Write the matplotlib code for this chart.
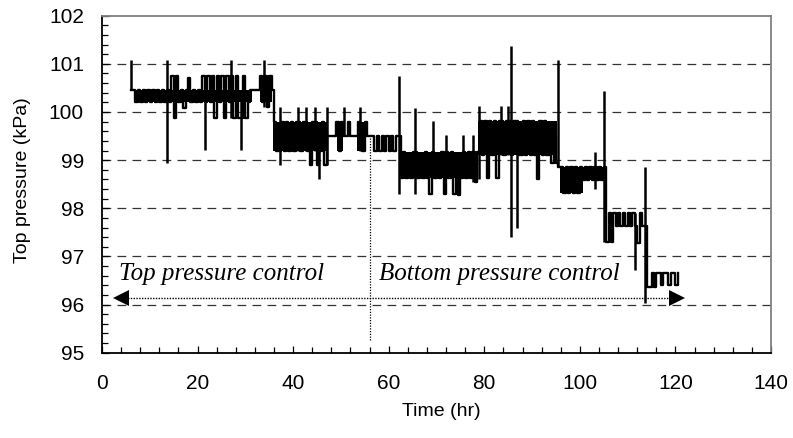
import numpy as np
import matplotlib
matplotlib.use("Agg")
import matplotlib.pyplot as plt
from matplotlib.ticker import MultipleLocator

# ---- data (0.5 hr sampling starting at 6 hr) ----
t_start = 6.0
t_step = 0.5
pressure_kpa = [
    100.45, 100.45, 100.2, 100.45, 100.2, 100.45, 100.2, 100.45, 100.2, 100.45,   # 6.0-10.5
    100.2, 100.45, 100.2, 100.45, 100.2, 100.45, 100.2, 100.75, 99.87, 100.75,    # 11.0-15.5
    100.2, 100.45, 100.08, 100.45, 100.7, 100.2, 100.45, 100.2, 100.45, 100.2,    # 16.0-20.5
    100.75, 100.2, 100.75, 100.2, 100.75, 99.87, 100.75, 100.2, 100.75, 99.87,    # 21.0-25.5
    100.75, 100.2, 100.75, 99.87, 100.75, 99.87, 99.87, 100.75, 99.87, 100.2,     # 26.0-30.5
    100.45, 100.45, 100.45, 100.45, 100.75, 100.2, 100.75, 100.1, 100.75, 100.45, # 31.0-35.5
    99.8, 99.2, 99.2, 99.8, 99.2, 99.8, 99.2, 99.8, 99.2, 99.8,                   # 36.0-40.5
    99.8, 99.2, 99.8, 99.8, 99.2, 98.9, 99.8, 99.8, 98.9, 99.2,                   # 41.0-45.5
    99.8, 98.9, 99.5, 99.5, 99.5, 99.5, 99.8, 99.2, 99.8, 99.5,                   # 46.0-50.5
    99.5, 99.8, 99.5, 99.5, 99.5, 99.8, 99.5, 99.2, 99.8, 99.5,                   # 51.0-55.5
    99.5, 99.5, 99.2, 99.5, 99.2, 99.5, 99.2, 99.5, 99.2, 99.5,                   # 56.0-60.5
    99.2, 99.5, 99.5, 98.62, 99.17, 98.62, 99.0, 98.62, 99.17, 99.17,             # 61.0-65.5
    98.62, 98.9, 98.62, 99.17, 98.62, 98.3, 99.17, 98.62, 99.0, 98.62,            # 66.0-70.5
    99.17, 98.3, 99.17, 98.62, 99.17, 98.3, 99.0, 98.27, 98.62, 99.17,            # 71.0-75.5
    98.62, 99.17, 98.62, 99.17, 98.55, 99.17, 99.82, 99.1, 99.82, 98.62,          # 76.0-80.5
    99.82, 99.1, 99.82, 98.62, 99.82, 99.82, 99.1, 99.82, 99.82, 99.1,            # 81.0-85.5
    99.82, 99.82, 99.1, 99.1, 99.82, 99.1, 99.82, 99.1, 99.82, 99.1,              # 86.0-90.5
    98.6, 99.82, 99.1, 99.82, 99.1, 99.52, 98.94, 99.52, 98.94, 98.86,            # 91.0-95.5
    98.86, 98.31, 98.86, 98.31, 98.86, 98.31, 98.86, 98.31, 98.86, 98.59,         # 96.0-100.5
    98.86, 98.59, 98.86, 98.59, 98.86, 98.59, 98.86, 98.59, 98.86, 97.3,          # 101.0-105.5
    97.9, 97.3, 97.9, 97.63, 97.9, 97.63, 97.9, 97.63, 97.9, 97.63,               # 106.0-110.5
    97.9, 97.63, 97.27, 97.9, 97.63, 97.63, 96.37, 96.37, 96.65, 96.37,           # 111.0-115.5
    96.65, 96.65, 96.4, 96.65, 96.65, 96.4, 96.65, 96.65, 96.4, 96.65,            # 116.0-120.5
]
time_hr = t_start + t_step * np.arange(len(pressure_kpa))

# short single-sample excursions (thin vertical spikes)
spike_time = [6.1, 13.6, 21.6, 27.1, 29.0, 34.0, 37.3, 41.0, 42.6, 44.6, 45.5, 47.0, 50.6, 54.0,
              62.1, 65.6, 69.2, 72.0, 75.6, 77.6, 78.8, 83.6, 85.0, 85.6, 86.8, 95.4, 103.1,
              105.0, 111.5, 113.7]
spike_low = [100.45, 98.93, 99.22, 99.87, 99.22, 100.1, 98.9, 99.2, 99.2, 99.2, 98.6, 98.9, 99.5, 99.2,
             98.3, 98.3, 98.62, 98.62, 98.62, 98.55, 98.6, 99.1, 99.1, 97.4, 97.6, 98.86, 98.4,
             97.3, 96.72, 96.03]
spike_high = [101.07, 101.07, 100.75, 101.07, 100.45, 101.07, 100.1, 100.1, 100.1, 100.1, 99.8, 100.1, 100.1, 100.1,
              100.75, 100.08, 99.82, 99.52, 99.52, 99.52, 100.12, 100.12, 100.12, 101.38, 99.82, 101.07, 99.17,
              100.43, 97.9, 98.86]

# dense fast-oscillation envelopes (where the trace fills solid)
band_start = [7.0, 33.1, 35.8, 49.1, 53.3, 62.3, 78.7, 95.8, 100.6]
band_end = [31.3, 35.5, 47.0, 50.5, 55.0, 78.5, 95.3, 100.6, 104.9]
band_low = [100.2, 100.2, 99.2, 99.2, 99.2, 98.62, 99.1, 98.31, 98.59]
band_high = [100.45, 100.75, 99.8, 99.8, 99.8, 99.17, 99.82, 98.86, 98.86]

x_ticks = [0, 20, 40, 60, 80, 100, 120, 140]
y_ticks = [95, 96, 97, 98, 99, 100, 101, 102]
switch_time = 56
arrow_span = [2.7, 121.5]
arrow_level = 96.13
label_left = "Top pressure control"
label_right = "Bottom pressure control"

# ---- figure ----
fig = plt.figure(figsize=(7.93, 4.38), dpi=100)
ax = fig.add_axes([102 / 793, 1 - 352.7 / 438, (771 - 102) / 793, (352.7 - 15.7) / 438])

sans = "Liberation Sans"
serif = "Liberation Serif"

# grid lines
for yv in y_ticks[1:-1]:
    ax.axhline(yv, color="#333333", lw=0.9, ls=(0, (7, 5)), zorder=1)

for s0, s1, lo, hi in zip(band_start, band_end, band_low, band_high):
    ax.fill_between([s0, s1], [lo, lo], [hi, hi], color="black", lw=0, zorder=3)

ax.plot(time_hr, pressure_kpa, color="black", lw=1.7, drawstyle="steps-post", zorder=3)
ax.vlines(spike_time, spike_low, spike_high, color="black", lw=1.8, zorder=3)

# switch-over marker
ax.plot([switch_time, switch_time], [99.45, 95.27], color="black", lw=0.9, ls=(0, (1, 1.2)), zorder=2)

# double arrow
ax.plot([arrow_span[0] + 1.5, arrow_span[1] - 1.5], [arrow_level, arrow_level],
        color="black", lw=1.0, ls=(0, (1, 1)), zorder=2)
ax.plot([arrow_span[0] + 1.2], [arrow_level], marker="<", ms=11, color="black",
        markeredgewidth=0, zorder=4)
ax.plot([arrow_span[1] - 1.2], [arrow_level], marker=">", ms=11, color="black",
        markeredgewidth=0, zorder=4)

ax.text(3.5, 96.5, label_left, family=serif, style="italic", fontsize=18, ha="left", va="baseline")
ax.text(58.0, 96.5, label_right, family=serif, style="italic", fontsize=18, ha="left", va="baseline")

ax.set_xlim(0, 140)
ax.set_ylim(95, 102)
ax.set_xticks(x_ticks)
ax.set_yticks(y_ticks)
ax.xaxis.set_minor_locator(MultipleLocator(4))
ax.yaxis.set_minor_locator(MultipleLocator(0.2))
ax.tick_params(which="both", direction="in", top=False, right=False, width=0.9, color="black")
ax.tick_params(which="major", length=5, labelsize=15)
ax.tick_params(axis="y", which="major", pad=13)
ax.tick_params(axis="x", which="major", pad=15)
ax.tick_params(which="minor", length=4)
for lab in ax.get_xticklabels() + ax.get_yticklabels():
    lab.set_family(sans)

ax.spines["left"].set_color("black")
ax.spines["bottom"].set_color("black")
ax.spines["top"].set_color("#808080")
ax.spines["right"].set_color("#808080")
for s in ax.spines.values():
    s.set_linewidth(1.3)

ax.set_xlabel("Time (hr)", family=sans, fontsize=14)
ax.set_ylabel("Top pressure (kPa)", family=sans, fontsize=14)
ax.xaxis.set_label_coords((441 - 102) / 669, -(403 - 352.7) / 337)
ax.yaxis.set_label_coords(-(102 - 31) / 669, (352.7 - 180) / 337)

fig.savefig("out.png", dpi=100)
